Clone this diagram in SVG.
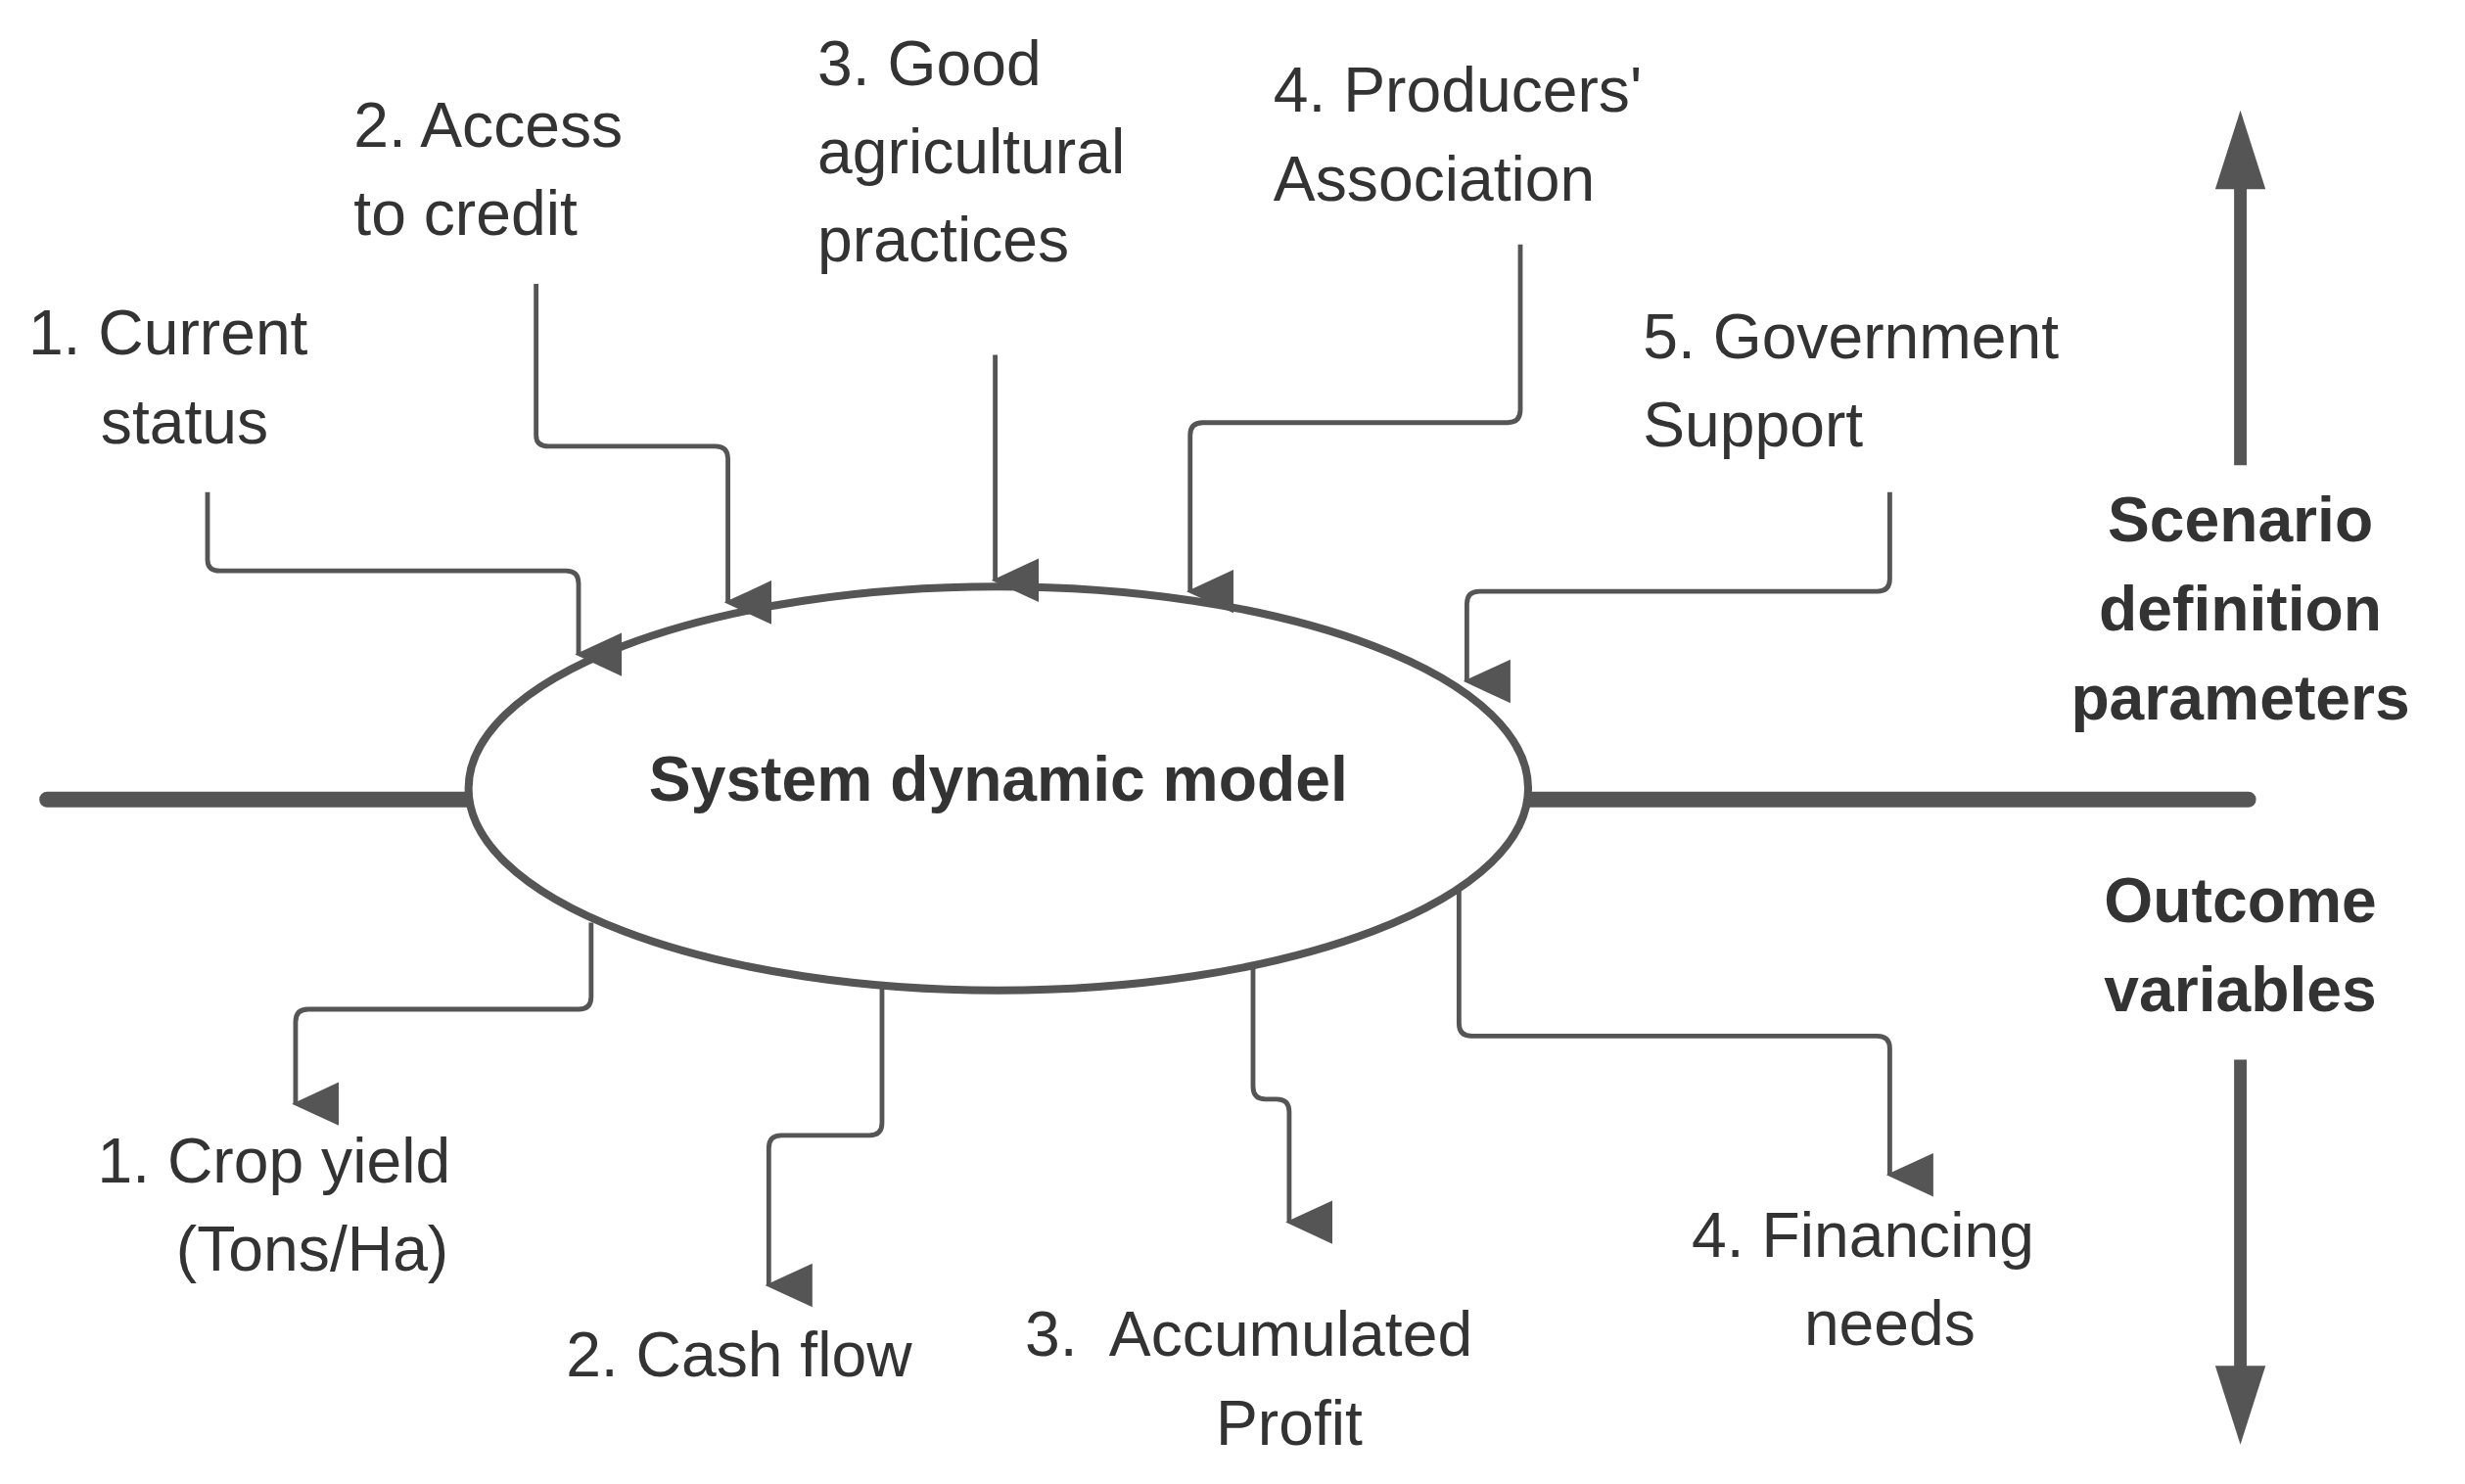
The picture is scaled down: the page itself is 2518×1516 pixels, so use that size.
<svg xmlns="http://www.w3.org/2000/svg" width="2518" height="1516" viewBox="0 0 2518 1516">
<defs>
<marker id="ah" markerUnits="userSpaceOnUse" markerWidth="30" markerHeight="30" refX="12" refY="24" orient="auto-start-reverse" viewBox="0 0 24 26"><path d="M0,0 L24,0 L12,26 Z" fill="#555"/></marker>
<marker id="big" markerUnits="userSpaceOnUse" markerWidth="40" markerHeight="50" refX="16" refY="0" viewBox="0 0 32 50" orient="auto"><path d="M0,0 L32,0 L16,50 Z" fill="#555"/></marker>
<style>
.c{fill:none;stroke:#555;stroke-width:3;stroke-linejoin:round}
.t{font-family:"Liberation Sans",Arial,sans-serif;font-size:40px;fill:#333}
.b{font-weight:bold;text-anchor:middle}
</style>
</defs>
<rect width="2518" height="1516" fill="#fff"/>
<g transform="scale(1.606,1.611)">
<g id="axis">
<line x1="30" y1="507" x2="298" y2="507" stroke="#555" stroke-width="10" stroke-linecap="round"/>
<line x1="972" y1="507" x2="1430" y2="507" stroke="#555" stroke-width="10" stroke-linecap="round"/>
<path d="M1425,295 V118" stroke="#555" stroke-width="8"/><path d="M1409,120 L1441,120 L1425,70 Z" fill="#555"/>
<path d="M1425,672 V868" stroke="#555" stroke-width="8"/><path d="M1409,866 L1441,866 L1425,916 Z" fill="#555"/>
</g>
<g id="model">
<ellipse cx="635" cy="500" rx="337" ry="128" fill="#fff" stroke="#555" stroke-width="5"/>
<text class="t b" x="635" y="508">System dynamic model</text>
</g>
<g id="connectors">
<path class="c" marker-end="url(#ah)" d="M132,312 V355 Q132,362 140,362 H360 Q368,362 368,370 V415"/>
<path class="c" marker-end="url(#ah)" d="M341,180 V276 Q341,283 349,283 H455 Q463,283 463,291 V382"/>
<path class="c" marker-end="url(#ah)" d="M633,225 V368"/>
<path class="c" marker-end="url(#ah)" d="M967,155 V260 Q967,268 959,268 H765 Q757,268 757,276 V375"/>
<path class="c" marker-end="url(#ah)" d="M1202,312 V367 Q1202,375 1194,375 H941 Q933,375 933,383 V432"/>
<path class="c" marker-end="url(#ah)" d="M376,585 V632 Q376,640 368,640 H196 Q188,640 188,648 V700"/>
<path class="c" marker-end="url(#ah)" d="M561,625 V712 Q561,720 553,720 H497 Q489,720 489,728 V815"/>
<path class="c" marker-end="url(#ah)" d="M797,612 V689 Q797,697 805,697 H812 Q820,697 820,705 V775"/>
<path class="c" marker-end="url(#ah)" d="M928,565 V649 Q928,657 936,657 H1194 Q1202,657 1202,665 V745"/>
</g>
<g id="inputs">
<text class="t" x="18" y="225">1. Current</text><text class="t" x="64" y="281">status</text>
<text class="t" x="225" y="93">2. Access</text><text class="t" x="225" y="149">to credit</text>
<text class="t" x="520" y="54">3. Good</text><text class="t" x="520" y="110">agricultural</text><text class="t" x="520" y="166">practices</text>
<text class="t" x="810" y="71">4. Producers'</text><text class="t" x="810" y="127">Association</text>
<text class="t" x="1045" y="227">5. Government</text><text class="t" x="1045" y="283">Support</text>
</g>
<g id="labels">
<text class="t b" x="1425" y="343">Scenario</text><text class="t b" x="1425" y="400">definition</text><text class="t b" x="1425" y="456">parameters</text>
<text class="t b" x="1425" y="585">Outcome</text><text class="t b" x="1425" y="641">variables</text>
</g>
<g id="outputs">
<text class="t" x="62" y="750">1. Crop yield</text><text class="t" x="112" y="806">(Tons/Ha)</text>
<text class="t" x="360" y="873">2. Cash flow</text>
<text class="t" x="652" y="860" xml:space="preserve">3.  Accumulated</text><text class="t" x="820" y="916" text-anchor="middle">Profit</text>
<text class="t" x="1076" y="797">4. Financing</text><text class="t" x="1202" y="853" text-anchor="middle">needs</text>
</g>
</g>
</svg>
